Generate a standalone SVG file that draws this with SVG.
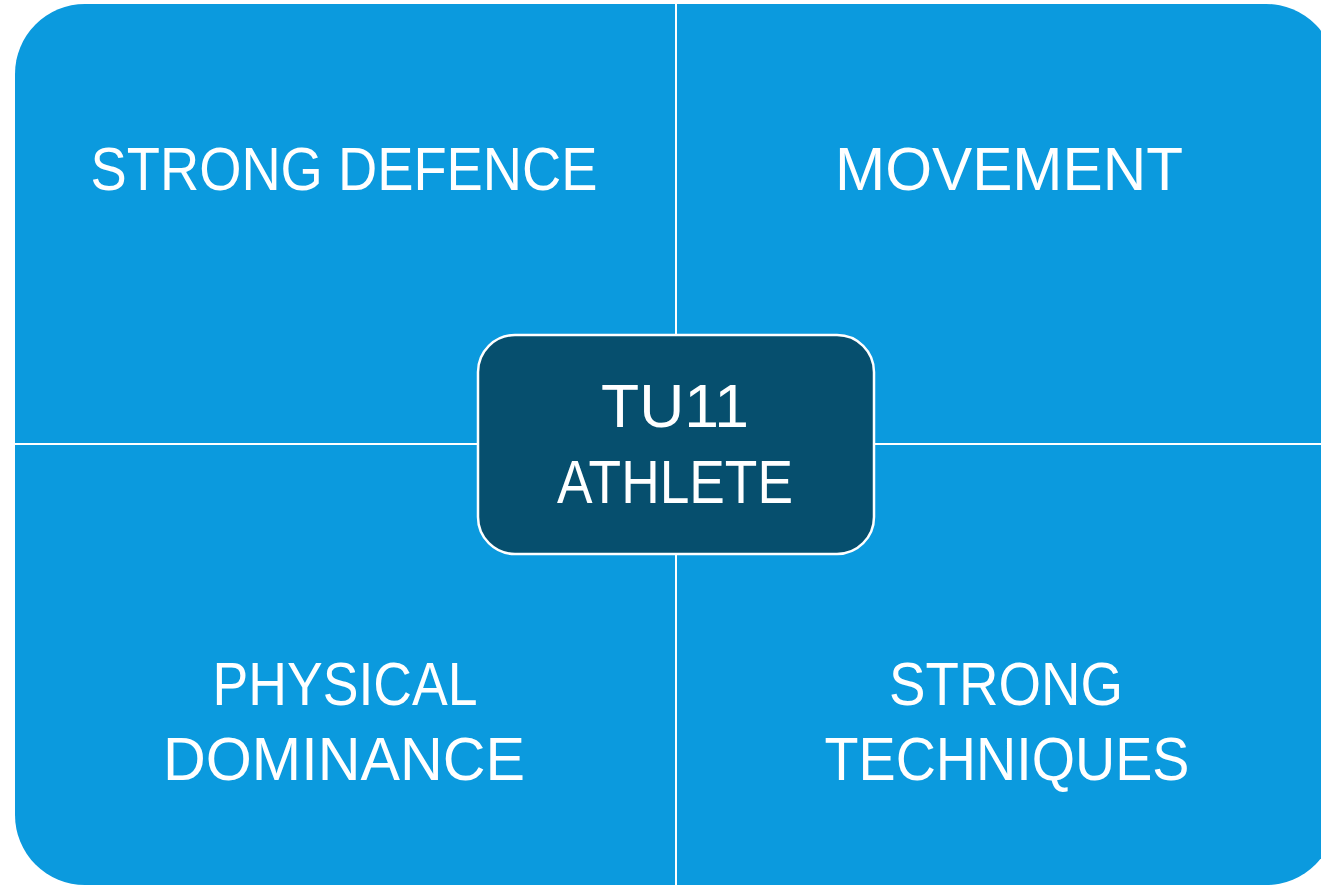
<svg xmlns="http://www.w3.org/2000/svg" width="1321" height="886" viewBox="0 0 1321 886">
<style>
.q{fill:#0b9ade;}
.t{font-family:"Liberation Sans",Arial,sans-serif;font-size:62px;fill:#ffffff;text-anchor:middle;}
</style>
<rect x="0" y="0" width="1321" height="886" fill="#ffffff"/>
<g id="strong-defence">
<path class="q" d="M15,74 A70,70 0 0 1 85,4 H675 V443 H15 Z"/>
<text class="t" x="344" y="190" textLength="507" lengthAdjust="spacingAndGlyphs">STRONG DEFENCE</text>
</g>
<g id="movement">
<path class="q" d="M677,4 H1266 A70,70 0 0 1 1336,74 V443 H677 Z"/>
<text class="t" x="1009" y="190" textLength="348" lengthAdjust="spacingAndGlyphs">MOVEMENT</text>
</g>
<g id="physical-dominance">
<path class="q" d="M15,445 H675 V885 H85 A70,70 0 0 1 15,815 Z"/>
<text class="t" x="345" y="705" textLength="265" lengthAdjust="spacingAndGlyphs">PHYSICAL</text>
<text class="t" x="344" y="780" textLength="362" lengthAdjust="spacingAndGlyphs">DOMINANCE</text>
</g>
<g id="strong-techniques">
<path class="q" d="M677,445 H1336 V815 A70,70 0 0 1 1266,885 H677 Z"/>
<text class="t" x="1006" y="705" textLength="234" lengthAdjust="spacingAndGlyphs">STRONG</text>
<text class="t" x="1007" y="780" textLength="365" lengthAdjust="spacingAndGlyphs">TECHNIQUES</text>
</g>
<g id="connectors"></g>
<g id="tu11-athlete">
<rect x="478" y="335" width="396" height="219" rx="37" ry="37" fill="#064f6e" stroke="#ffffff" stroke-width="2.5"/>
<text class="t" x="675" y="427" textLength="148" lengthAdjust="spacingAndGlyphs">TU11</text>
<text class="t" x="675" y="503" textLength="236" lengthAdjust="spacingAndGlyphs">ATHLETE</text>
</g>
</svg>
